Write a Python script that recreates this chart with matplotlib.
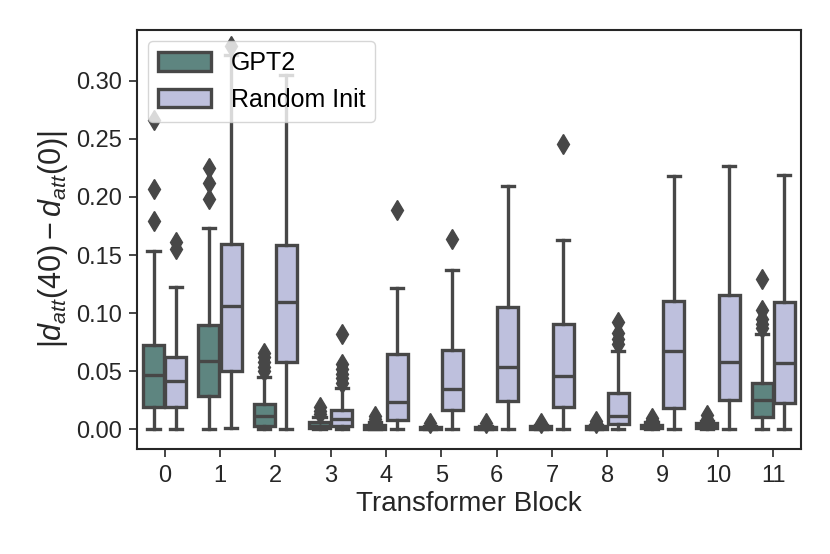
import matplotlib
matplotlib.use('Agg')
import matplotlib.pyplot as plt
from matplotlib.patches import Patch

plt.rcParams['font.family'] = ['Liberation Sans', 'DejaVu Sans']
plt.rcParams['mathtext.fontset'] = 'custom'
plt.rcParams['mathtext.rm'] = 'Liberation Sans'
plt.rcParams['mathtext.it'] = 'Liberation Sans:italic'

# box stats
blocks = list(range(12))
series = ['GPT2', 'Random Init']

gpt2_q1 = [0.019, 0.0289, 0.0028, 0.001, 0.0005, 0.0003, 0.0003, 0.0005, 0.0005, 0.001, 0.001, 0.0103]
gpt2_med = [0.0467, 0.0588, 0.0114, 0.003, 0.002, 0.001, 0.001, 0.0015, 0.0015, 0.002, 0.0025, 0.0252]
gpt2_q3 = [0.0728, 0.0898, 0.0218, 0.006, 0.004, 0.002, 0.002, 0.003, 0.003, 0.004, 0.005, 0.0401]
gpt2_lo = [0.0] * 12
gpt2_hi = [0.1537, 0.173, 0.0447, 0.011, 0.006, 0.003, 0.003, 0.004, 0.004, 0.006, 0.007, 0.082]
gpt2_fliers = [
    [0.179, 0.2065, 0.266],
    [0.198, 0.2117, 0.2246],
    [0.050, 0.054, 0.058, 0.062, 0.0654],
    [0.013, 0.016, 0.019],
    [0.009, 0.0115],
    [0.005],
    [0.0055],
    [0.0055],
    [0.0055, 0.007],
    [0.008, 0.010],
    [0.009, 0.012],
    [0.087, 0.091, 0.095, 0.1027, 0.129],
]

rand_q1 = [0.0189, 0.0505, 0.0577, 0.003, 0.008, 0.0166, 0.0246, 0.0189, 0.0046, 0.0186, 0.0252, 0.0224]
rand_med = [0.0418, 0.1061, 0.1098, 0.0085, 0.0232, 0.0344, 0.0539, 0.0459, 0.0114, 0.0674, 0.0582, 0.0568]
rand_q3 = [0.0625, 0.1595, 0.1586, 0.0165, 0.0645, 0.0682, 0.1055, 0.0906, 0.031, 0.1104, 0.1156, 0.1098]
rand_lo = [0.0, 0.001, 0.0, 0.0, 0.0, 0.0, 0.0, 0.0, 0.0, 0.0, 0.0, 0.0]
rand_hi = [0.1222, 0.322, 0.305, 0.0353, 0.1213, 0.137, 0.2096, 0.1629, 0.0674, 0.2183, 0.2269, 0.2189]
rand_fliers = [
    [0.155, 0.1615],
    [0.330],
    [],
    [0.040, 0.044, 0.048, 0.052, 0.056, 0.0818],
    [0.1887],
    [0.1635],
    [],
    [0.2455],
    [0.073, 0.078, 0.083, 0.0926],
    [],
    [],
    [],
]

colors = ['#5e8580', '#bec0dd']
edge = '#474747'


def make_stats(q1, med, q3, lo, hi, fl):
    return [dict(q1=a, med=b, q3=c, whislo=d, whishi=e, fliers=f)
            for a, b, c, d, e, f in zip(q1, med, q3, lo, hi, fl)]


fig = plt.figure(figsize=(8.3, 5.54), dpi=100)
ax = fig.add_axes([0.165, 0.189, 0.8, 0.757])

all_stats = [
    make_stats(gpt2_q1, gpt2_med, gpt2_q3, gpt2_lo, gpt2_hi, gpt2_fliers),
    make_stats(rand_q1, rand_med, rand_q3, rand_lo, rand_hi, rand_fliers),
]
offsets = [-0.2, 0.2]

for stats, off, col in zip(all_stats, offsets, colors):
    ax.bxp(stats, positions=[b + off for b in blocks], widths=0.38,
           capwidths=0.22, patch_artist=True, manage_ticks=False,
           boxprops=dict(facecolor=col, edgecolor=edge, linewidth=2.4),
           medianprops=dict(color=edge, linewidth=2.4),
           whiskerprops=dict(color=edge, linewidth=2.4),
           capprops=dict(color=edge, linewidth=2.4),
           flierprops=dict(marker='d', markersize=10.5, markerfacecolor=edge,
                           markeredgecolor=edge, linestyle='none'))

ax.set_xlim(-0.5, 11.5)
ax.set_ylim(-0.0172, 0.3437)
ax.set_xticks(blocks)
ax.set_xticklabels([str(b) for b in blocks])
ax.set_yticks([0.0, 0.05, 0.10, 0.15, 0.20, 0.25, 0.30])
ax.set_yticklabels(['0.00', '0.05', '0.10', '0.15', '0.20', '0.25', '0.30'])
ax.tick_params(labelsize=17, length=6, width=1.2, colors='#262626', pad=5)
for s in ax.spines.values():
    s.set_linewidth(1.5)
    s.set_color('#262626')

ax.set_xlabel('Transformer Block', fontsize=20, color='#262626', labelpad=3)
ax.set_ylabel(r'$|d_{att}(40) - d_{att}(0)|$', fontsize=22, color='#262626', labelpad=4)

handles = [Patch(facecolor=c, edgecolor=edge, linewidth=2.4, label=l)
           for c, l in zip(colors, series)]
leg = ax.legend(handles=handles, loc='upper left', fontsize=18,
                handlelength=2.1, handleheight=0.76, borderaxespad=0.45)
leg.set_zorder(10)

fig.savefig('out.png', dpi=100)
